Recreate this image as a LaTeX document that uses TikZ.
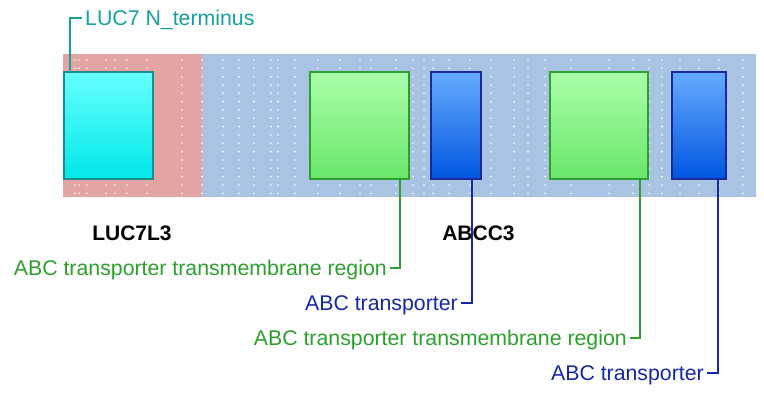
\documentclass[tikz,border=0pt]{standalone}
\usepackage{fontspec}
\setmainfont{Liberation Sans}
\definecolor{bgred}{HTML}{E3A4A4}
\definecolor{bgblue}{HTML}{A9C4E3}
\definecolor{cyantop}{HTML}{66FFFF}
\definecolor{cyanbot}{HTML}{00E8E8}
\definecolor{cyanedge}{HTML}{1C8C8C}
\definecolor{greentop}{HTML}{AAFFAA}
\definecolor{greenbot}{HTML}{6AE66A}
\definecolor{greenedge}{HTML}{2E9E2E}
\definecolor{bluetop}{HTML}{66AAFF}
\definecolor{bluebot}{HTML}{0055E0}
\definecolor{blueedge}{HTML}{1A2A9A}
\definecolor{tealtxt}{HTML}{17A0A0}
\definecolor{greentxt}{HTML}{2CA02C}
\definecolor{bluetxt}{HTML}{1428A8}
\tikzset{
  box/.style={draw, line width=1.8pt, inner sep=0pt, anchor=north west, minimum height=107pt},
  cbox/.style={box, draw=cyanedge, top color=cyantop, bottom color=cyanbot},
  gbox/.style={box, draw=greenedge, top color=greentop, bottom color=greenbot},
  bbox/.style={box, draw=blueedge, top color=bluetop, bottom color=bluebot},
  lbl/.style={inner sep=0pt, font=\fontsize{21.3}{25}\selectfont, text height=15pt, text depth=0pt},
  gene/.style={inner sep=0pt, font=\fontsize{21}{25}\selectfont\bfseries, anchor=base},
  conn/.style={line width=2pt},
}
\begin{document}
\begin{tikzpicture}[x=1pt,y=-1pt]
\useasboundingbox (0,0) rectangle (764,398);
% background bands
\fill[bgred] (63,54) rectangle (202,197);
\fill[bgblue] (202,54) rectangle (756,197);
% dots
\foreach \x in {75,79,87,106,115,127,147,182,202,223,239,254,271,278,295,318,340,360,371,396,413,424,433,449,470,491,514,528,545,571,609,633,649,662,680,699,719,743}
  \foreach \r in {0,...,16}
    \fill[white] (\x,60+\r*8.33) circle (0.9);
% connectors behind boxes
\coordinate (c0) at (70,71);
\coordinate (c1) at (400,178);
\coordinate (c2) at (472,178);
\coordinate (c3) at (640,178);
\coordinate (c4) at (718,178);
\node[lbl, anchor=west, text=tealtxt] (l0) at (85,18) {LUC7 N\_terminus};
\node[lbl, anchor=east, text=greentxt] (l1) at (387,268) {ABC transporter transmembrane region};
\node[lbl, anchor=east, text=bluetxt] (l2) at (458,303) {ABC transporter};
\node[lbl, anchor=east, text=greentxt] (l3) at (627,338) {ABC transporter transmembrane region};
\node[lbl, anchor=east, text=bluetxt] (l4) at (704,373) {ABC transporter};
\draw[conn, tealtxt] (c0) |- ([xshift=-3pt]l0.west);
\draw[conn, greentxt] (c1) |- ([xshift=3pt]l1.east);
\draw[conn, bluetxt] (c2) |- ([xshift=3pt]l2.east);
\draw[conn, greentxt] (c3) |- ([xshift=3pt]l3.east);
\draw[conn, bluetxt] (c4) |- ([xshift=3pt]l4.east);
% domain boxes
\node[cbox, minimum width=89pt] (d0) at (63,71) {};
\node[gbox, minimum width=99pt] (d1) at (309,71) {};
\node[bbox, minimum width=50pt] (d2) at (430,71) {};
\node[gbox, minimum width=98pt] (d3) at (549,71) {};
\node[bbox, minimum width=54pt] (d4) at (671,71) {};
% gene names
\node[gene] (g0) at (132,241) {LUC7L3};
\node[gene] (g1) at (478.5,241) {ABCC3};
\end{tikzpicture}
\end{document}
